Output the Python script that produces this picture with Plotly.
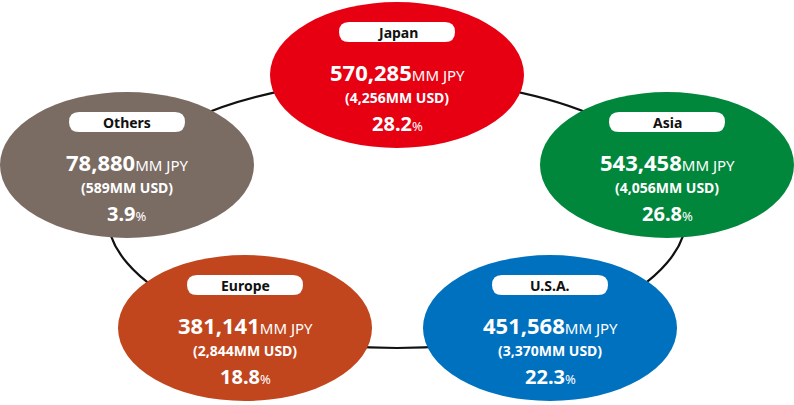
import plotly.graph_objects as go

regions = ["Japan", "Asia", "U.S.A.", "Europe", "Others"]
jpy_mm = ["570,285", "543,458", "451,568", "381,141", "78,880"]
usd_mm = ["4,256", "4,056", "3,370", "2,844", "589"]
share_pct = ["28.2", "26.8", "22.3", "18.8", "3.9"]

colors = ["#E60012", "#00873C", "#0071BF", "#C1461D", "#7A6B63"]
centers = [(397, 75), (667, 165), (550, 328), (245, 328), (127, 165)]
RX, RY = 127, 73
FONT = "Noto Sans"

W, H = 794, 405
fig = go.Figure()
shapes = []
# connecting ring
shapes.append(dict(type="circle", xref="x", yref="y", x0=397 - 290, x1=397 + 290,
                   y0=214 - 134, y1=214 + 134, line=dict(color="#111", width=2.2),
                   layer="below"))


def pill(cx, cy, w=116, h=20, r=10):
    x0, x1, y0, y1 = cx - w / 2, cx + w / 2, cy - h / 2, cy + h / 2
    return (f"M{x0 + r},{y0} L{x1 - r},{y0} Q{x1},{y0} {x1},{y0 + r} "
            f"L{x1},{y1 - r} Q{x1},{y1} {x1 - r},{y1} L{x0 + r},{y1} "
            f"Q{x0},{y1} {x0},{y1 - r} L{x0},{y0 + r} Q{x0},{y0} {x0 + r},{y0} Z")


annotations = []
for name, jpy, usd, pct, col, (cx, cy) in zip(regions, jpy_mm, usd_mm, share_pct, colors, centers):
    shapes.append(dict(type="circle", xref="x", yref="y", x0=cx - RX, x1=cx + RX,
                       y0=cy - RY, y1=cy + RY, fillcolor=col, line=dict(width=0)))
    shapes.append(dict(type="path", xref="x", yref="y", path=pill(cx, cy - 43),
                       fillcolor="white", line=dict(width=0)))
    annotations.append(dict(x=cx, y=cy - 43, text=f"<b>{name}</b>", showarrow=False,
                            font=dict(family=FONT, size=14, color="#111")))
    annotations.append(dict(x=cx, y=cy - 3, showarrow=False,
                            text=f"<b>{jpy}</b><span style='font-size:15px'>MM JPY</span>",
                            font=dict(family=FONT, size=22, color="white")))
    annotations.append(dict(x=cx, y=cy + 22, showarrow=False, text=f"<b>({usd}MM USD)</b>",
                            font=dict(family=FONT, size=14, color="white")))
    annotations.append(dict(x=cx, y=cy + 48, showarrow=False,
                            text=f"<b>{pct}</b><span style='font-size:13px'>%</span>",
                            font=dict(family=FONT, size=20, color="white")))

fig.update_layout(
    width=W, height=H, margin=dict(l=0, r=0, t=0, b=0),
    paper_bgcolor="white", plot_bgcolor="white",
    xaxis=dict(range=[0, W], visible=False, fixedrange=True),
    yaxis=dict(range=[H, 0], visible=False, fixedrange=True),
    shapes=shapes, annotations=annotations, showlegend=False,
)
fig.write_html("out.html", config={"displayModeBar": False},
               post_script="document.body.style.margin='0';document.body.style.overflow='hidden';")
